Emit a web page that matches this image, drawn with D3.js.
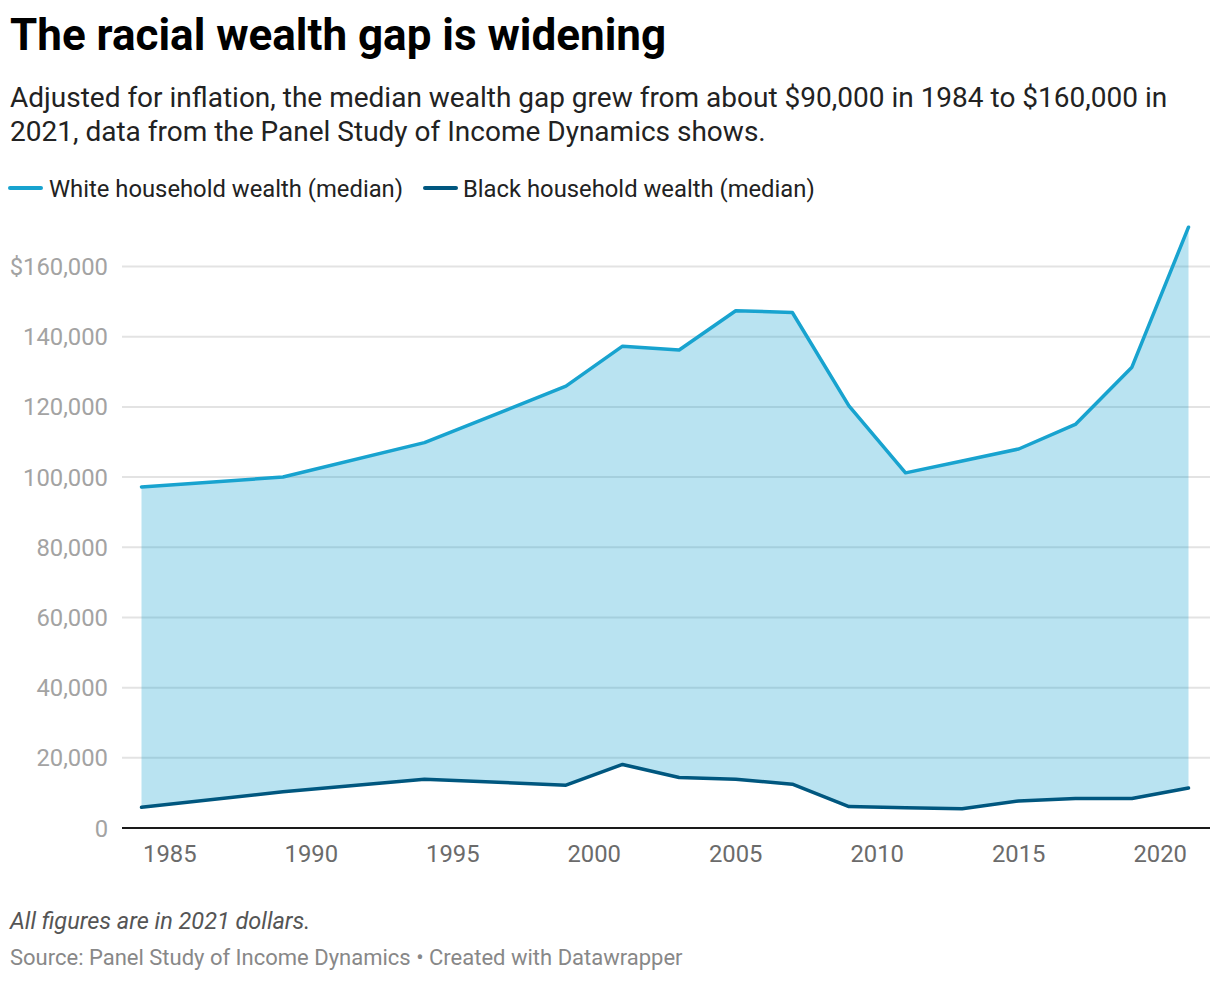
<!DOCTYPE html>
<html><head><meta charset="utf-8">
<script src="https://cdn.jsdelivr.net/npm/d3@7"></script>
<style>
body{margin:0;background:#fff;font-family:Roboto,"Noto Sans",sans-serif;}
</style></head>
<body><svg id="c" width="1220" height="982"></svg>
<script>
const years = [1984,1989,1994,1999,2001,2003,2005,2007,2009,2011,2013,2015,2017,2019,2021];
const whiteWealth = [97200,100000,109800,125900,137300,136200,147400,146900,120300,101200,104600,108000,115000,131300,171200];
const blackWealth = [5900,10300,13900,12200,18100,14400,13900,12500,6100,5800,5500,7700,8400,8400,11400];
const yTicks = [0,20000,40000,60000,80000,100000,120000,140000,160000];
const xTicks = [1985,1990,1995,2000,2005,2010,2015,2020];
const seriesNames = ["White household wealth (median)","Black household wealth (median)"];
const colors = ["#18a3cf","#00577f"];

const svg = d3.select("#c");
const x = d3.scaleLinear().domain([1984,2021]).range([141.5,1188.5]);
const y = d3.scaleLinear().domain([0,160000]).range([828,266.5]);
const gridL = 122, gridR = 1210;

svg.append("text").attr("x",10).attr("y",50).attr("font-size",44).attr("font-weight",700).attr("fill","#000").text("The racial wealth gap is widening");
svg.append("text").attr("x",10).attr("y",107).attr("font-size",28).attr("fill","#222").text("Adjusted for inflation, the median wealth gap grew from about $90,000 in 1984 to $160,000 in");
svg.append("text").attr("x",10).attr("y",141).attr("font-size",28).attr("fill","#222").text("2021, data from the Panel Study of Income Dynamics shows.");

const leg = [{x:10,tx:49},{x:425,tx:463}];
seriesNames.forEach((n,i)=>{
  svg.append("line").attr("x1",leg[i].x).attr("x2",leg[i].x+31).attr("y1",188).attr("y2",188).attr("stroke",colors[i]).attr("stroke-width",4).attr("stroke-linecap","round");
  svg.append("text").attr("x",leg[i].tx).attr("y",196.5).attr("font-size",23.8).attr("fill","#222").text(n);
});

const fmt = d3.format(",");
yTicks.forEach(t=>{
  if(t>0) svg.append("line").attr("x1",gridL).attr("x2",gridR).attr("y1",y(t)).attr("y2",y(t)).attr("stroke","#e3e3e3").attr("stroke-width",2);
  svg.append("text").attr("x",108).attr("y",y(t)+8.5).attr("text-anchor","end").attr("font-size",23.8).attr("fill","#a3a3a3").text((t===160000?"$":"")+fmt(t));
});

const data = years.map((yr,i)=>({yr,w:whiteWealth[i],b:blackWealth[i]}));
svg.append("path").datum(data).attr("fill","#18a3cf").attr("fill-opacity",0.3)
  .attr("d",d3.area().x(d=>x(d.yr)).y0(d=>y(d.b)).y1(d=>y(d.w)));

[["w",0],["b",1]].forEach(([k,i])=>{
  svg.append("path").datum(data).attr("fill","none").attr("stroke",colors[i]).attr("stroke-width",3.5)
    .attr("stroke-linejoin","round").attr("stroke-linecap","round")
    .attr("d",d3.line().x(d=>x(d.yr)).y(d=>y(d[k])));
});

svg.append("line").attr("x1",gridL).attr("x2",gridR).attr("y1",y(0)).attr("y2",y(0)).attr("stroke","#1a1a1a").attr("stroke-width",2);
xTicks.forEach(t=>{
  svg.append("text").attr("x",x(t)).attr("y",862).attr("text-anchor","middle").attr("font-size",23.8).attr("fill","#6b6b6b").text(t);
});

svg.append("text").attr("x",10).attr("y",929).attr("font-size",23.5).attr("font-style","italic").attr("fill","#555").text("All figures are in 2021 dollars.");
svg.append("text").attr("x",10).attr("y",965).attr("font-size",22).attr("fill","#888").text("Source: Panel Study of Income Dynamics • Created with Datawrapper");
</script></body></html>
